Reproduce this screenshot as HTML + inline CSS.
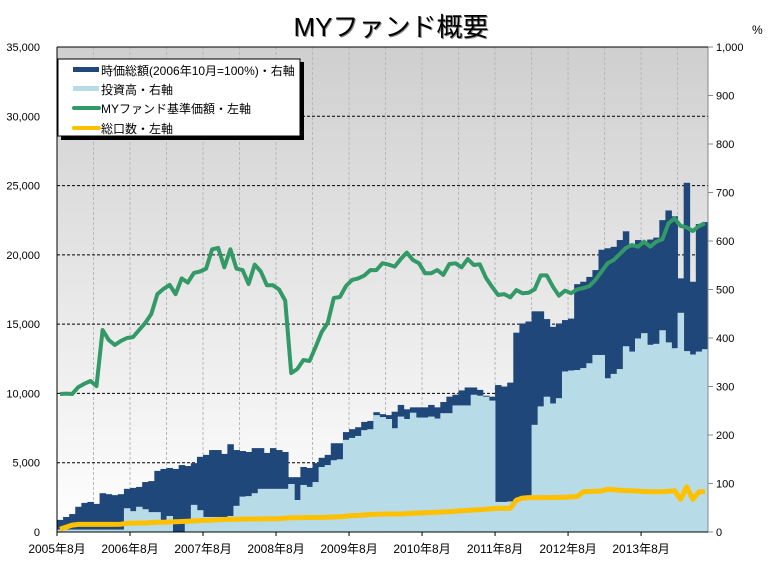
<!DOCTYPE html>
<html><head><meta charset="utf-8"><style>
html,body{margin:0;padding:0;background:#fff;}
svg{display:block;font-family:"Liberation Sans","Noto Sans CJK JP",sans-serif;}
</style></head><body>
<svg id="chart" width="781" height="564" viewBox="0 0 781 564" xmlns="http://www.w3.org/2000/svg">
<defs>
<linearGradient id="bg" x1="0" y1="0" x2="0" y2="1">
<stop offset="0" stop-color="#cfcfcf"/><stop offset="1" stop-color="#ffffff"/>
</linearGradient>
</defs>
<text x="391" y="36" text-anchor="middle" font-size="26" fill="#000" style="text-shadow:1px 1px 0 #888">MYファンド概要</text>
<text x="752" y="34" font-size="12" fill="#000">%</text>
<rect x="57" y="47" width="651" height="485" fill="url(#bg)"/>
<g id="grid"></g>
<g id="bars"></g>
<g id="lines"></g>
<g id="axes"></g>
<g>
<rect x="61" y="62" width="243" height="78" fill="#000"/>
<rect x="58" y="59" width="242" height="77" fill="#fff" stroke="#000" stroke-width="1"/>
<g><rect x="73" y="67" width="26" height="5" fill="#1f477a"/><text x="101" y="75" font-size="12">時価総額(2006年10月=100%)・右軸</text></g>
<g><rect x="73" y="86" width="26" height="5" fill="#b7dce8"/><text x="101" y="94" font-size="12">投資高・右軸</text></g>
<g><line x1="74" y1="108" x2="99" y2="108" stroke="#339966" stroke-width="4" stroke-linecap="round"/><text x="101" y="113" font-size="12">MYファンド基準価額・左軸</text></g>
<g><line x1="74" y1="128" x2="99" y2="128" stroke="#ffc000" stroke-width="4" stroke-linecap="round"/><text x="101" y="133" font-size="12">総口数・左軸</text></g>
</g>
</svg>
<script>
const marketValue=[25,31,37,52,60,62,58,80,78,76,78,89,91,93,103,105,126,130,132,130,138,136,142,155,159,169,169,161,181,169,167,165,173,173,163,173,169,165,113,113,134,132,142,153,159,183,183,206,212,216,227,229,247,243,241,248,262,253,257,257,257,262,257,268,279,283,292,298,298,293,281,279,303,300,308,411,430,434,455,455,439,423,430,437,440,511,516,526,540,582,585,588,602,620,593,602,596,603,607,643,663,651,523,720,516,635,639];
const investment=[5,5,5,5,5,5,5,5,5,5,5,49,43,52,47,41,41,20,33,0,0,25,56,45,31,31,31,31,33,54,73,74,80,89,89,89,89,89,99,66,97,93,103,134,138,148,150,190,194,198,210,212,241,237,233,214,238,233,246,236,236,238,234,245,245,261,261,261,283,281,279,271,62,62,63,67,73,73,221,259,279,265,276,331,333,334,338,348,365,365,317,326,336,383,372,399,410,386,388,416,391,379,452,373,366,372,377];
const navPrice=[9960,9990,9960,10460,10700,10900,10530,14580,13860,13500,13790,14000,14070,14580,15080,15730,17170,17540,17830,17170,18300,18000,18700,18800,19000,20400,20500,19100,20400,19000,18900,17900,19300,18800,17800,17800,17500,16700,11470,11760,12410,12340,13350,14430,15080,16890,16960,17750,18190,18300,18500,18900,18900,19400,19300,19150,19700,20160,19630,19390,18670,18670,18910,18550,19340,19390,19100,19700,19270,19320,18350,17700,17100,17170,16940,17460,17230,17260,17510,18520,18520,17700,17050,17410,17230,17510,17600,17750,18190,18790,19390,19630,20060,20500,20710,20590,20950,20590,20950,21120,22280,22640,22080,21990,21720,22080,22280];
const totalUnits=[200,350,500,550,550,550,550,550,550,550,560,630,640,650,660,680,700,710,720,740,760,780,800,820,840,860,880,900,910,920,930,940,940,940,950,960,970,1000,1030,1035,1040,1045,1050,1050,1060,1080,1100,1150,1180,1200,1230,1260,1280,1290,1300,1300,1300,1320,1350,1370,1390,1410,1430,1450,1470,1500,1530,1560,1590,1610,1640,1680,1710,1710,1710,2300,2450,2480,2480,2480,2480,2490,2500,2510,2530,2560,2900,2920,2940,2960,3080,3050,3020,2990,2980,2950,2920,2910,2910,2910,2940,2980,2360,3270,2360,2900,2910];
const leftTicks=["0","5,000","10,000","15,000","20,000","25,000","30,000","35,000"];
const rightTicks=["0","100","200","300","400","500","600","700","800","900","1,000"];
const xLabels=["2005年8月","2006年8月","2007年8月","2008年8月","2009年8月","2010年8月","2011年8月","2012年8月","2013年8月"];

const NS="http://www.w3.org/2000/svg";
const X0=57,X1=708,Y0=532,Y1=47;
const n=marketValue.length, mw=(X1-X0)/n;
const xm=i=>X0+i*mw;
const yL=v=>Y0-(v/35000)*(Y0-Y1);
const yR=v=>Y0-(v/1000)*(Y0-Y1);
function mk(tag,attrs,parent){const e=document.createElementNS(NS,tag);for(const k in attrs)e.setAttribute(k,attrs[k]);parent.appendChild(e);return e;}
const grid=document.getElementById('grid'),bars=document.getElementById('bars'),lines=document.getElementById('lines'),axes=document.getElementById('axes');
// vertical grid every 6 months
for(let m=6;m<n;m+=6){const l=mk('line',{x1:xm(m),x2:xm(m),y1:Y1,y2:Y0,stroke:'#b8b8b8','stroke-dasharray':'3,2'},grid);

}
leftTicks.forEach((t,i)=>{if(i===0||i===7)return;const y=yL(i*5000);const l=mk('line',{x1:X0,x2:X1,y1:y,y2:y,stroke:'#000','stroke-dasharray':'3,2'},grid);

});
// bars
marketValue.forEach((v,i)=>{const r=mk('rect',{x:xm(i),y:yR(v),width:mw+0.4,height:Y0-yR(v),fill:'#1f477a'},bars);

});
investment.forEach((v,i)=>{const r=mk('rect',{x:xm(i),y:yR(v),width:mw+0.4,height:Y0-yR(v),fill:'#b7dce8'},bars);

});
// lines
function pts(arr){return arr.map((v,i)=>(xm(i)+mw/2).toFixed(1)+','+yL(v).toFixed(1)).join(' ');}
const yl=mk('polyline',{points:pts(totalUnits),fill:'none',stroke:'#ffc000','stroke-width':5,'stroke-linejoin':'round'},lines);


const gl=mk('polyline',{points:pts(navPrice),fill:'none',stroke:'#339966','stroke-width':4,'stroke-linejoin':'round'},lines);


// axes
const la=mk('line',{x1:X0,x2:X0,y1:Y1,y2:Y0,stroke:'#000'},axes);


const ra=mk('line',{x1:X1,x2:X1,y1:Y1,y2:Y0,stroke:'#888'},axes);


const ta=mk('line',{x1:X0,x2:X1,y1:Y1,y2:Y1,stroke:'#000'},axes);


const ba=mk('line',{x1:X0,x2:X1,y1:Y0,y2:Y0,stroke:'#000'},axes);


leftTicks.forEach((t,i)=>{const y=yL(i*5000);const tx=mk('text',{x:40,y:y+4,'text-anchor':'end','font-size':11},axes);tx.textContent=t;

});
rightTicks.forEach((t,i)=>{const y=yR(i*100);mk('line',{x1:X1,x2:X1+5,y1:y,y2:y,stroke:'#888'},axes);const tx=mk('text',{x:716,y:y+4,'font-size':11},axes);tx.textContent=t;

});
xLabels.forEach((t,i)=>{const x=xm(i*12);mk('line',{x1:x,x2:x,y1:Y0,y2:Y0+4,stroke:'#000'},axes);const tx=mk('text',{x:Math.max(x,30),y:553,'text-anchor':'middle','font-size':12},axes);tx.textContent=t;

});
</script>
</body></html>
